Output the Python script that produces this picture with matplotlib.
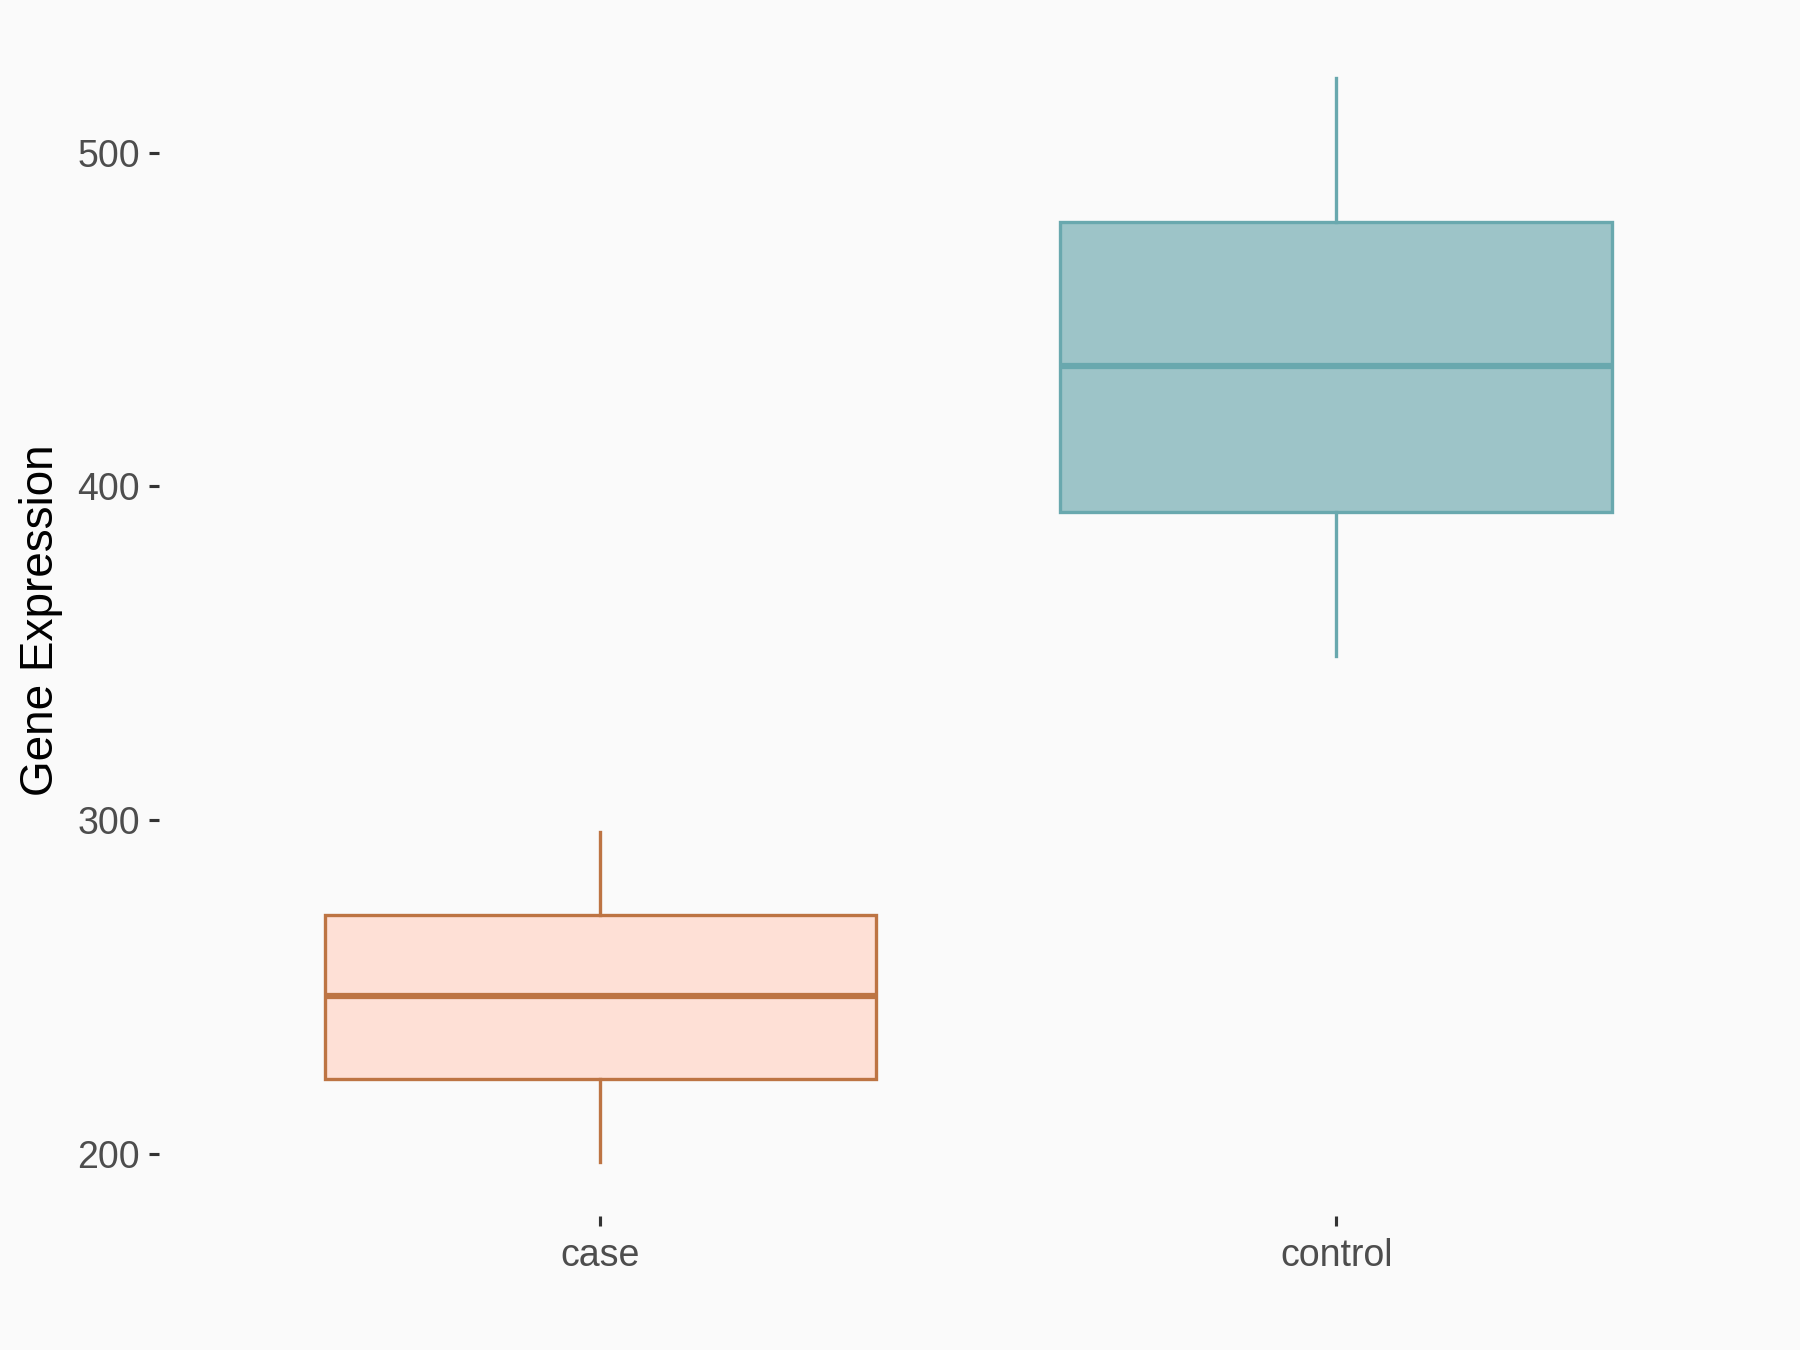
import matplotlib
matplotlib.use("Agg")
import matplotlib.pyplot as plt

# valores
grupos = ["case", "control"]
minimo = [197.6, 349.3]
q1 = [222.4, 392.3]
mediana = [247.2, 436.0]
q3 = [271.6, 479.4]
maximo = [296.4, 522.4]

cor_preench = ["#FEE0D6", "#9DC4C8"]
cor_borda = ["#BD7443", "#69A8AE"]

plt.rcParams['font.family'] = ['Liberation Sans', 'DejaVu Sans']

fig = plt.figure(figsize=(12, 9), dpi=150, facecolor="#FAFAFA")
ax = fig.add_axes([0.0883, 0.0993, 0.8994, 0.883])
ax.set_facecolor("#FAFAFA")

stats = []
for i, g in enumerate(grupos):
    stats.append({"label": g, "whislo": minimo[i], "q1": q1[i], "med": mediana[i],
                  "q3": q3[i], "whishi": maximo[i], "fliers": []})

caixas = ax.bxp(stats, positions=[1, 2], widths=0.75, patch_artist=True,
                showfliers=False, showcaps=False)

for i in range(len(grupos)):
    caixas["boxes"][i].set_facecolor(cor_preench[i])
    caixas["boxes"][i].set_edgecolor(cor_borda[i])
    caixas["boxes"][i].set_linewidth(1.6)
    caixas["medians"][i].set_color(cor_borda[i])
    caixas["medians"][i].set_linewidth(3.0)
    for w in caixas["whiskers"][2 * i:2 * i + 2]:
        w.set_color(cor_borda[i])
        w.set_linewidth(1.6)

ax.set_xlim(0.4, 2.6)
faixa = max(maximo) - min(minimo)
ax.set_ylim(min(minimo) - 0.05 * faixa, max(maximo) + 0.05 * faixa)
ax.set_yticks([200, 300, 400, 500])
ax.set_xticks([1, 2])
ax.set_xticklabels(grupos)

for s in ax.spines.values():
    s.set_visible(False)

ax.tick_params(axis="both", colors="#333333", length=5, width=1.5, pad=4,
               labelsize=18, labelcolor="#4D4D4D")
ax.tick_params(axis="x", pad=5.5)
ax.set_ylabel("Gene Expression", fontsize=22, color="black", labelpad=7)

fig.savefig("out.png", dpi=150, facecolor=fig.get_facecolor())
